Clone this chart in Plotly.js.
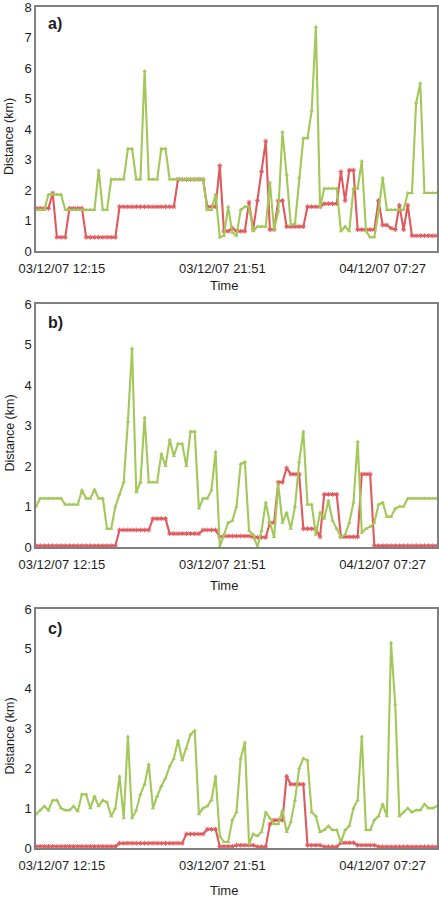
<!DOCTYPE html>
<html>
<head>
<meta charset="utf-8">
<script src="https://cdn.plot.ly/plotly-3.0.1.min.js"></script>
<style>
  html, body { margin: 0; padding: 0; background: #ffffff; }
  #chart { width: 439px; height: 900px; }
</style>
</head>
<body>
<div id="chart"></div>
<script>
// ---- Data, one reading every 15 minutes ----
const startTime = '2007-12-03 10:42';
const stepMinutes = 15;

const tickTimes = ['2007-12-03 12:15', '2007-12-03 21:51', '2007-12-04 07:27'];
const tickLabels = ['03/12/07 12:15', '03/12/07 21:51', '04/12/07 07:27'];

const panelLabels = ['a)', 'b)', 'c)'];
const yMax = [8, 6, 6];

// Panel a
const greenA = [1.35,1.35,1.35,1.85,1.85,1.85,1.85,1.35,1.35,1.35,
  1.35,1.35,1.35,1.35,1.35,2.65,1.35,1.35,2.35,2.35,
  2.35,2.35,3.35,3.35,2.35,2.35,5.9,2.35,2.35,2.35,
  3.35,3.35,2.35,2.35,2.35,2.35,2.35,2.35,2.35,2.35,
  2.35,1.35,1.35,1.85,0.45,0.5,1.45,0.6,0.5,1.35,
  1.45,1.45,0.65,0.8,0.8,0.8,2.25,0.7,1.3,3.9,
  2.5,0.85,0.9,2.4,3.7,3.7,4.6,7.35,1.45,2.05,
  2.05,2.05,2.05,0.65,0.8,0.65,2.05,2.05,2.95,0.65,
  0.45,0.45,1.3,2.4,1.35,1.35,1.35,1.35,1.35,1.9,
  1.9,4.85,5.5,1.9,1.9,1.9,1.9];
const redA = [1.4,1.4,1.4,1.4,1.9,0.45,0.45,0.45,1.4,1.4,
  1.4,1.4,0.45,0.45,0.45,0.45,0.45,0.45,0.45,0.45,
  1.45,1.45,1.45,1.45,1.45,1.45,1.45,1.45,1.45,1.45,
  1.45,1.45,1.45,1.45,2.35,2.35,2.35,2.35,2.35,2.35,
  2.35,1.45,1.45,1.45,2.8,0.65,0.65,0.75,0.65,0.65,
  0.65,1.6,0.7,1.65,2.6,3.6,0.7,0.7,1.65,1.65,
  0.8,0.8,0.8,0.8,0.8,1.45,1.45,1.45,1.45,1.55,
  1.55,1.55,1.55,2.6,1.65,2.65,2.65,0.7,0.7,0.7,
  0.7,0.7,1.65,0.85,0.85,0.75,0.7,1.5,0.7,1.5,
  0.5,0.5,0.5,0.5,0.5,0.5,0.5];

// Panel b
const greenB = [1.0,1.2,1.2,1.2,1.2,1.2,1.2,1.05,1.05,1.05,
  1.05,1.4,1.2,1.2,1.42,1.2,1.2,0.45,0.45,1.0,
  1.3,1.6,3.1,4.9,1.35,1.6,3.2,1.6,1.6,1.6,
  2.3,2.0,2.65,2.25,2.55,2.55,2.0,2.85,2.85,0.95,
  1.2,1.2,1.4,2.35,0.0,0.3,0.6,0.65,1.0,2.05,
  2.1,0.4,0.3,0.0,0.4,1.1,0.6,0.25,1.55,0.6,
  0.85,0.45,1.0,2.1,2.85,1.05,1.05,0.3,0.85,0.7,
  1.15,0.65,0.45,0.25,0.3,0.6,1.1,2.6,0.35,0.45,
  0.5,0.6,1.05,1.1,0.75,0.75,0.95,1.0,1.0,1.2,
  1.2,1.2,1.2,1.2,1.2,1.2,1.2];
const redB = [0.03,0.03,0.03,0.03,0.03,0.03,0.03,0.03,0.03,0.03,
  0.03,0.03,0.03,0.03,0.03,0.03,0.03,0.03,0.03,0.03,
  0.42,0.42,0.42,0.42,0.42,0.42,0.42,0.42,0.7,0.7,
  0.7,0.7,0.33,0.33,0.33,0.33,0.33,0.33,0.33,0.33,
  0.42,0.42,0.42,0.42,0.25,0.27,0.27,0.27,0.27,0.27,
  0.27,0.27,0.24,0.24,0.24,0.24,0.6,0.6,1.6,1.6,
  1.95,1.8,1.8,1.8,0.45,0.45,0.45,0.45,0.25,1.3,
  1.3,1.3,1.3,0.25,0.25,0.25,0.25,0.25,1.8,1.8,
  1.8,0.03,0.03,0.03,0.03,0.03,0.03,0.03,0.03,0.03,
  0.03,0.03,0.03,0.03,0.03,0.03,0.03];

// Panel c
const greenC = [0.85,0.95,1.05,0.95,1.2,1.2,1.0,0.95,0.95,1.05,
  0.92,1.35,1.35,1.0,1.3,1.05,1.2,1.15,0.8,1.0,
  1.8,0.75,2.8,0.75,0.95,1.35,1.6,2.1,1.0,1.3,
  1.55,1.75,2.05,2.25,2.7,2.2,2.5,2.85,2.95,0.85,
  1.0,1.05,1.2,1.8,0.3,0.15,0.15,0.7,0.9,2.25,
  2.65,0.1,0.35,0.3,0.4,0.9,0.75,0.6,0.6,0.95,
  0.4,0.65,1.2,2.0,2.25,2.2,0.9,0.8,0.4,0.45,
  0.55,0.45,0.45,0.15,0.45,0.55,1.0,1.2,2.8,0.45,
  0.45,0.7,0.8,1.1,0.8,5.15,3.6,0.8,0.9,1.0,
  0.9,0.95,0.95,1.1,1.0,1.0,1.05];
const redC = [0.04,0.04,0.04,0.04,0.04,0.04,0.04,0.04,0.04,0.04,
  0.04,0.04,0.04,0.04,0.04,0.04,0.04,0.04,0.04,0.04,
  0.12,0.12,0.12,0.12,0.12,0.12,0.12,0.12,0.12,0.12,
  0.12,0.12,0.12,0.12,0.12,0.12,0.35,0.35,0.35,0.35,
  0.35,0.47,0.47,0.47,0.04,0.04,0.04,0.04,0.07,0.07,
  0.07,0.07,0.07,0.03,0.03,0.03,0.6,0.7,0.7,0.7,
  1.8,1.6,1.6,1.6,1.6,0.07,0.07,0.07,0.07,0.03,
  0.03,0.03,0.03,0.13,0.13,0.13,0.13,0.07,0.07,0.07,
  0.07,0.07,0.03,0.03,0.03,0.03,0.03,0.03,0.03,0.03,
  0.03,0.03,0.03,0.03,0.03,0.03,0.03];

const greenSeries = [greenA, greenB, greenC];
const redSeries = [redA, redB, redC];

// ---- Build timestamps for the regular 15-minute readings ----
function parseStamp(s) {
  const [d, t] = s.split(' ');
  const [Y, M, D] = d.split('-').map(Number);
  const [h, m] = t.split(':').map(Number);
  return Date.UTC(Y, M - 1, D, h, m);
}
const t0 = parseStamp(startTime);
function timesFor(n) {
  const out = [];
  for (let i = 0; i < n; i++) out.push(t0 + i * stepMinutes * 60000);
  return out;
}
const tEnd = t0 + 96 * stepMinutes * 60000;
const tickVals = tickTimes.map(parseStamp);

// ---- Layout geometry (pixels in a 439x900 page) ----
const W = 439, H = 900;
const plotLeft = 36, plotRight = 437;
const panels = [
  { top: 7, bottom: 251, labelY: 24, timeY: 286 },
  { top: 304, bottom: 547, labelY: 323, timeY: 585 },
  { top: 609, bottom: 848, labelY: 628, timeY: 890 }
];

const GREEN = '#a3c85a';
const RED = '#e05a5d';
const FONT = 'Liberation Sans, Arial, sans-serif';
const TXT = '#1e1e1e';

const traces = [];
const layout = {
  width: W, height: H,
  margin: { l: 0, r: 0, t: 0, b: 0 },
  paper_bgcolor: '#ffffff',
  plot_bgcolor: '#ffffff',
  showlegend: false,
  font: { family: FONT, color: TXT, size: 13 },
  annotations: []
};

panels.forEach((p, k) => {
  const sfx = k === 0 ? '' : String(k + 1);
  const xs = timesFor(greenSeries[k].length);
  traces.push({
    type: 'scatter', mode: 'lines+markers',
    x: xs, y: redSeries[k],
    xaxis: 'x' + sfx, yaxis: 'y' + sfx,
    line: { color: RED, width: 2.1 },
    marker: { symbol: 'asterisk-open', size: 4, color: RED, line: { color: RED, width: 1 } },
    cliponaxis: false
  });
  traces.push({
    type: 'scatter', mode: 'lines+markers',
    x: xs, y: greenSeries[k],
    xaxis: 'x' + sfx, yaxis: 'y' + sfx,
    line: { color: GREEN, width: 2.1 },
    marker: { symbol: 'triangle-up', size: 4, color: GREEN },
    cliponaxis: false
  });

  const yDom = [1 - p.bottom / H, 1 - p.top / H];
  layout['xaxis' + sfx] = {
    type: 'date',
    domain: [plotLeft / W, plotRight / W],
    anchor: 'y' + sfx,
    range: [t0, tEnd],
    tickvals: tickVals,
    ticktext: tickLabels,
    showline: true, mirror: true, linecolor: '#808080', linewidth: 1.6,
    showgrid: false, zeroline: false, ticks: '',
    ticklabelstandoff: 5,
    ticklabeloverflow: 'allow',
    tickfont: { family: FONT, size: 13, color: TXT },
    fixedrange: true
  };
  layout['yaxis' + sfx] = {
    domain: yDom,
    anchor: 'x' + sfx,
    range: [0, yMax[k]],
    dtick: 1, tick0: 0,
    showline: true, mirror: true, linecolor: '#808080', linewidth: 1.6,
    showgrid: false, zeroline: false, ticks: '',
    ticklabeloverflow: 'allow',
    tickfont: { family: FONT, size: 13, color: TXT },
    fixedrange: true
  };

  // panel letter
  layout.annotations.push({
    xref: 'paper', yref: 'paper',
    x: 46 / W, y: 1 - p.labelY / H,
    xanchor: 'left', yanchor: 'middle',
    text: '<b>' + panelLabels[k] + '</b>',
    showarrow: false,
    font: { family: FONT, size: 16, color: TXT }
  });
  // x-axis title
  layout.annotations.push({
    xref: 'paper', yref: 'paper',
    x: 224 / W, y: 1 - p.timeY / H,
    xanchor: 'center', yanchor: 'middle',
    text: 'Time', showarrow: false,
    font: { family: FONT, size: 13, color: TXT }
  });
  // y-axis title
  layout.annotations.push({
    xref: 'paper', yref: 'paper',
    x: 9 / W, y: 1 - ((p.top + p.bottom) / 2 + 8) / H,
    xanchor: 'center', yanchor: 'middle',
    textangle: -90,
    text: 'Distance (km)', showarrow: false,
    font: { family: FONT, size: 12.5, color: TXT }
  });
});

Plotly.newPlot('chart', traces, layout, { staticPlot: true, displayModeBar: false });
</script>
</body>
</html>
